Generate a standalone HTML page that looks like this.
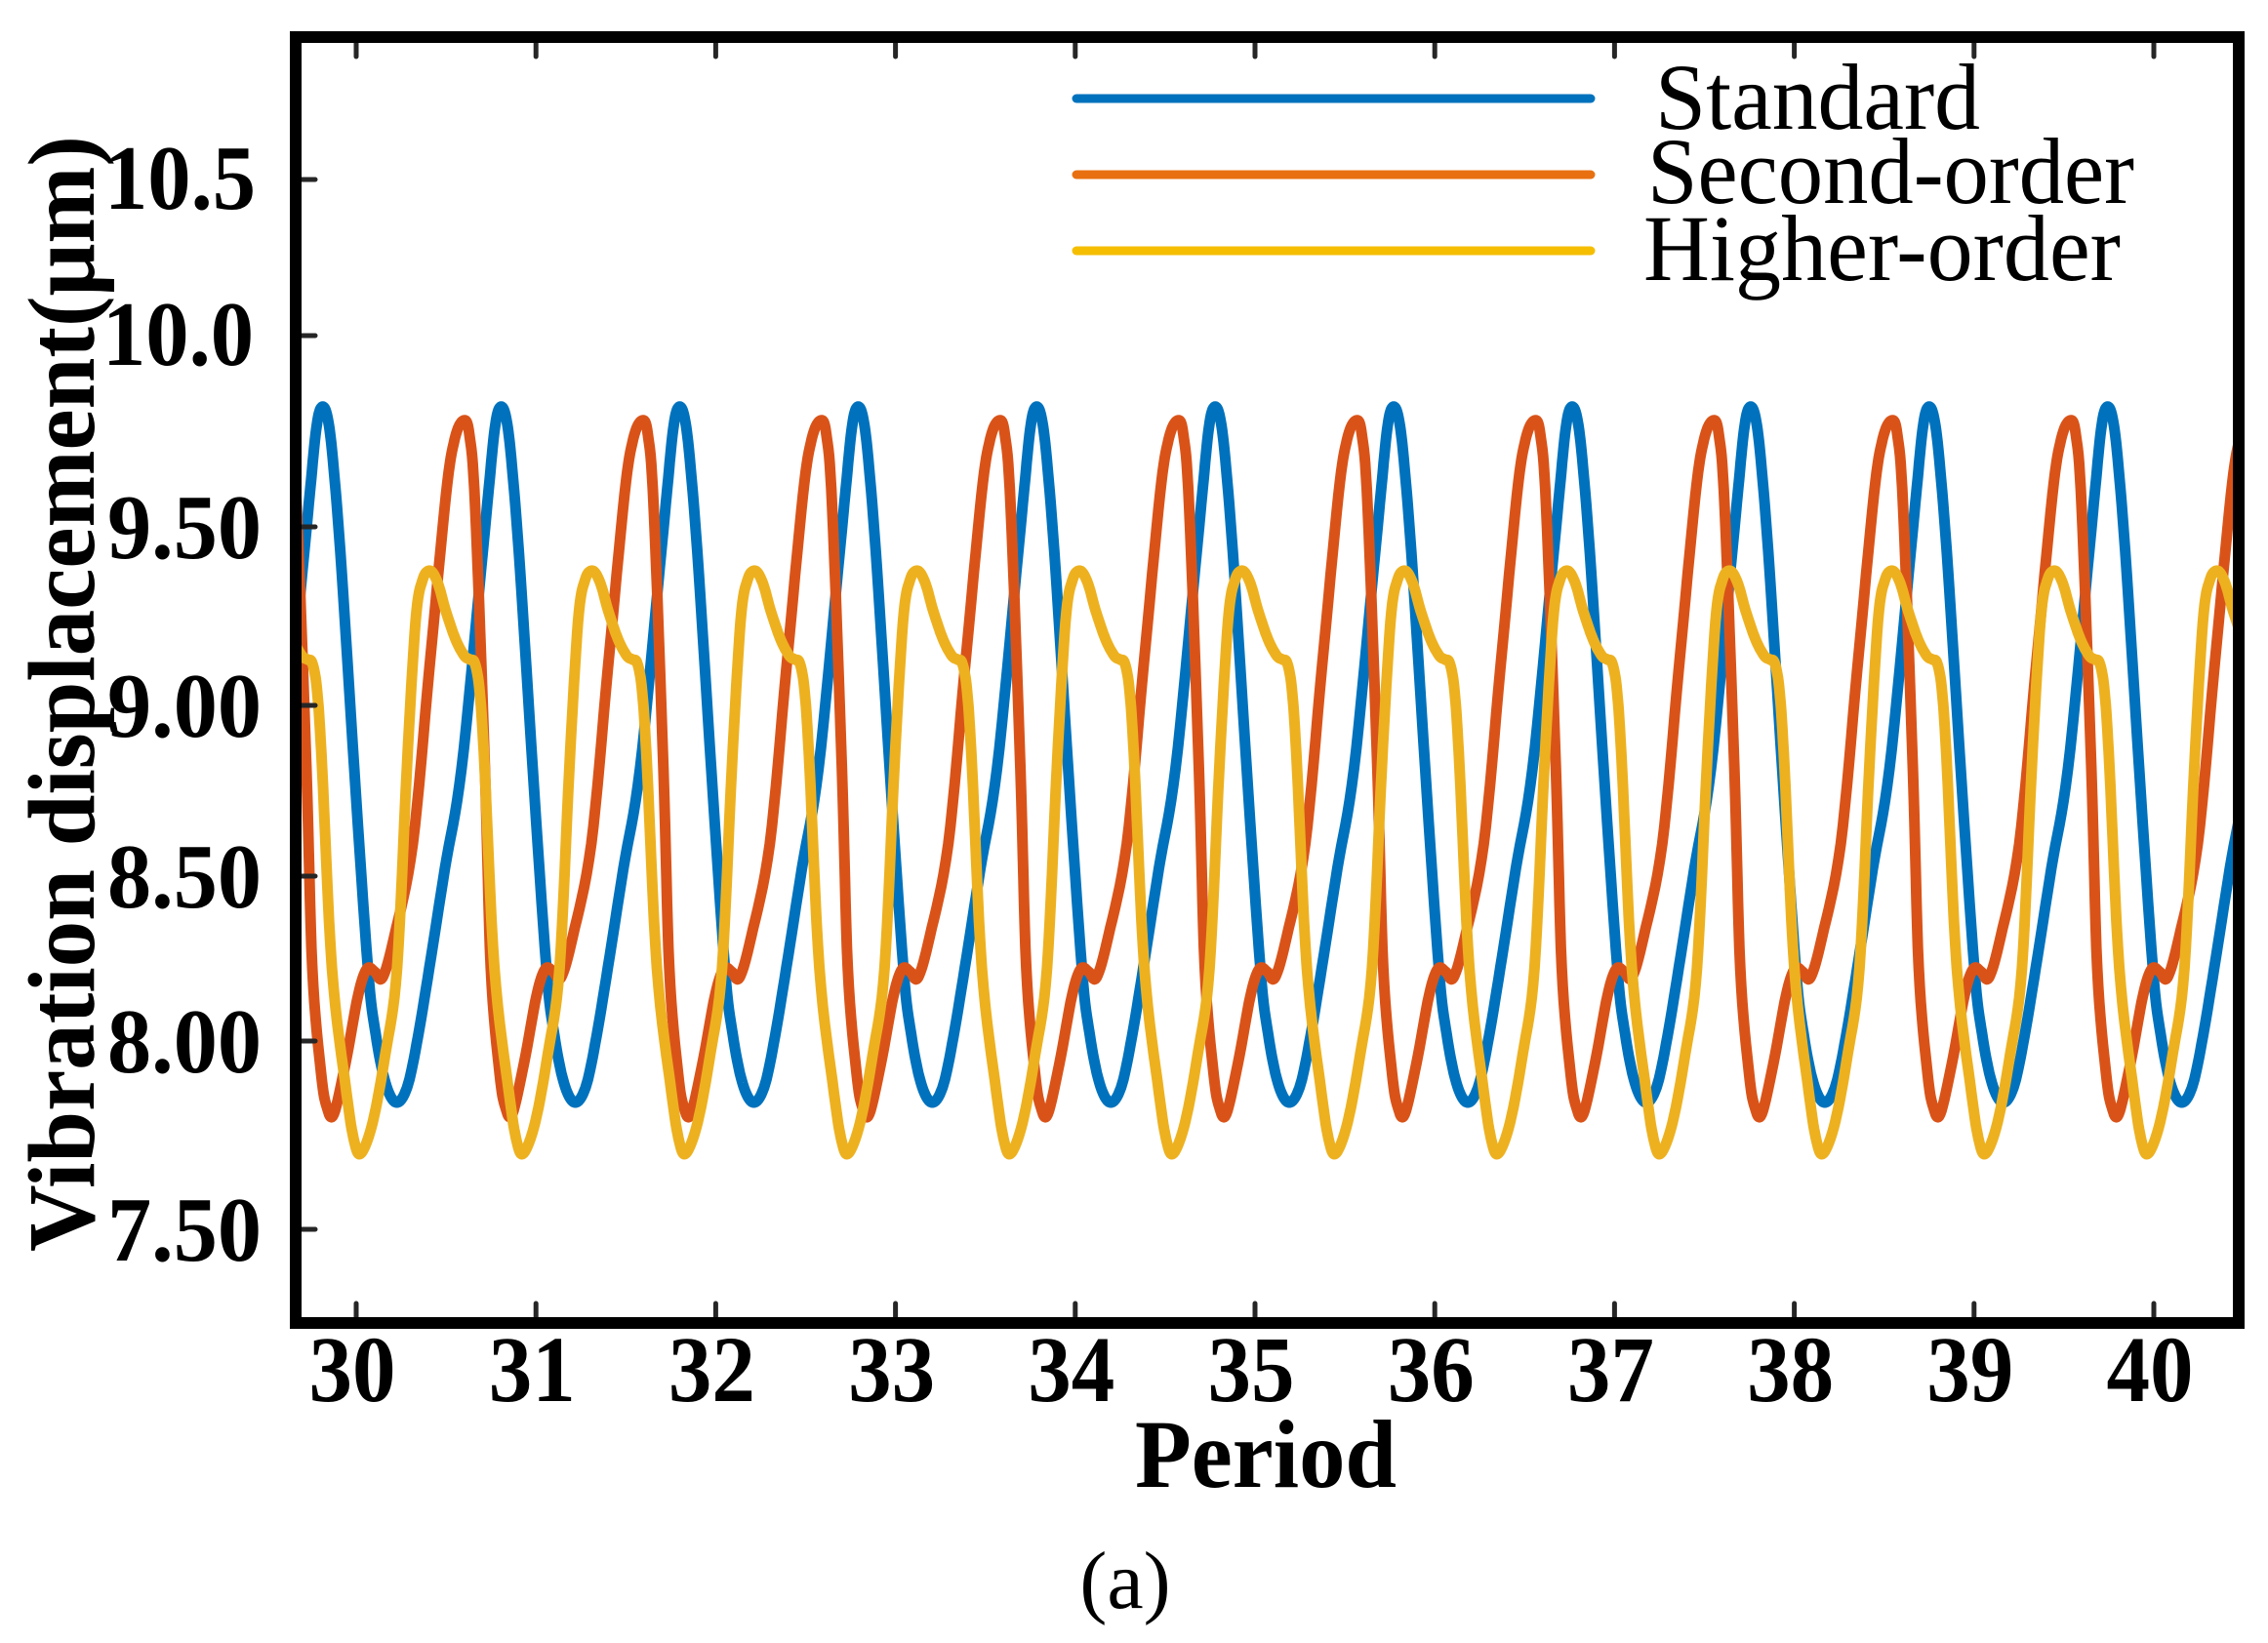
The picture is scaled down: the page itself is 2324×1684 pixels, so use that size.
<!DOCTYPE html>
<html><head><meta charset="utf-8"><style>
html,body{margin:0;padding:0;background:#fff;}
svg{display:block;}
</style></head><body>
<svg id="s" width="2324" height="1684" viewBox="0 0 2324 1684" xmlns="http://www.w3.org/2000/svg">
<defs><clipPath id="c"><rect x="303" y="38" width="1991" height="1312"/></clipPath></defs>
<rect width="2324" height="1684" fill="#fff"/>
<g id="series" clip-path="url(#c)" fill="none" stroke-width="11" stroke-linejoin="round" stroke-linecap="round"></g>
<g id="ticks" stroke="#262626" stroke-width="5" stroke-linecap="round"></g>
<rect x="303" y="38" width="1991" height="1318" fill="none" stroke="#000" stroke-width="12"/>
<g font-family="Liberation Serif, serif" font-weight="bold" font-size="94" fill="#000" id="labels">
<text x="107" y="214" textLength="155" lengthAdjust="spacingAndGlyphs">10.5</text>
<text x="105" y="374" textLength="155" lengthAdjust="spacingAndGlyphs">10.0</text>
<text x="110" y="572" textLength="158" lengthAdjust="spacingAndGlyphs">9.50</text>
<text x="110" y="755" textLength="158" lengthAdjust="spacingAndGlyphs">9.00</text>
<text x="110" y="930" textLength="158" lengthAdjust="spacingAndGlyphs">8.50</text>
<text x="110" y="1099" textLength="158" lengthAdjust="spacingAndGlyphs">8.00</text>
<text x="110" y="1292" textLength="158" lengthAdjust="spacingAndGlyphs">7.50</text>
</g>
<g font-family="Liberation Serif, serif" font-weight="bold" font-size="96" fill="#000" id="xl"></g>
<text x="1297" y="1524" text-anchor="middle" font-family="Liberation Serif, serif" font-weight="bold" font-size="100" textLength="268" lengthAdjust="spacingAndGlyphs">Period</text>
<text transform="translate(96,711) rotate(-90)" text-anchor="middle" font-family="Liberation Serif, serif" font-weight="bold" font-size="98" textLength="1144" lengthAdjust="spacingAndGlyphs">Vibration displacement(μm)</text>
<text x="1153" y="1648" text-anchor="middle" font-family="Liberation Serif, serif" font-size="84">(a)</text>
<g stroke-width="9" stroke-linecap="round">
<line x1="1103" y1="101" x2="1630" y2="101" stroke="#0072BD"/>
<line x1="1103" y1="179" x2="1630" y2="179" stroke="#E87010"/>
<line x1="1103" y1="257" x2="1630" y2="257" stroke="#F5BE00"/>
</g>
<g font-family="Liberation Serif, serif" font-size="96" fill="#000">
<text x="1696" y="132" textLength="333" lengthAdjust="spacingAndGlyphs">Standard</text>
<text x="1688" y="208" textLength="499" lengthAdjust="spacingAndGlyphs">Second-order</text>
<text x="1684" y="287" textLength="489" lengthAdjust="spacingAndGlyphs">Higher-order</text>
</g>
</svg>
<script>
(function(){
var NS="http://www.w3.org/2000/svg";
function el(n,a,p){var e=document.createElementNS(NS,n);for(var k in a)e.setAttribute(k,a[k]);p.appendChild(e);return e;}
var tk=document.getElementById('ticks'), xl=document.getElementById('xl');
for(var i=0;i<=10;i++){
  var x=365+i*184.2;
  el('line',{x1:x,y1:1350,x2:x,y2:1336},tk);
  el('line',{x1:x,y1:44,x2:x,y2:58},tk);
  var t=el('text',{x:x-4,y:1436,'text-anchor':'middle',textLength:89,lengthAdjust:'spacingAndGlyphs'},xl);
  t.textContent=String(30+i);
}
[184,344,540,723,898,1067,1260].forEach(function(y){el('line',{x1:309,y1:y,x2:323,y2:y},tk);});
var blue=[[0,418],[6,425],[12,470],[21,584],[34,788],[48,992],[56,1060],[66,1110],[77,1130],[88,1115],[98,1070],[111,992],[127,890],[144,788],[164,584],[172,500],[178,440]];
var orange=[[0,1142],[12,1090],[25,1020],[34,993],[42,996],[50,1002],[62,960],[81,865],[98,686],[115,508],[124,450],[133,431],[139,445],[145,520],[155,788],[161,992],[170,1100],[176,1135]];
var yellow=[[0,1182],[12,1150],[25,1080],[37,992],[47,788],[56,637],[63,595],[71,585],[79,598],[87,626],[97,655],[106,672],[112,676],[117,680],[122,710],[127,788],[137,992],[152,1120],[160,1170]];
function build(kp,per,x0,col,nom){
  var pts=[];
  for(var k=-2;k<14;k++){
    var base=x0+k*per, sc=per/nom;
    kp.forEach(function(p){pts.push([base+p[0]*sc,p[1]]);});
  }
  pts=pts.filter(function(p){return p[0]>200&&p[0]<2420;});
  var d='';
  for(var i=1;i<pts.length-2;i++){
    var p0=pts[i-1],p1=pts[i],p2=pts[i+1],p3=pts[i+2];
    for(var s=0;s<8;s++){
      var t=s/8,t2=t*t,t3=t2*t;
      var f=function(a,b,c,e){return 0.5*((2*b)+(-a+c)*t+(2*a-5*b+4*c-e)*t2+(-a+3*b-3*c+e)*t3);};
      var X=f(p0[0],p1[0],p2[0],p3[0]),Y=f(p0[1],p1[1],p2[1],p3[1]);
      d+=(d?'L':'M')+X.toFixed(1)+' '+Y.toFixed(1);
    }
  }
  el('path',{d:d,stroke:col},document.getElementById('series'));
}
build(blue,182.9,329,'#0072BD',183);
build(orange,182.9,342,'#D95319',183);
build(yellow,166.5,370,'#EDB120',167);
})();
</script>
</body></html>
